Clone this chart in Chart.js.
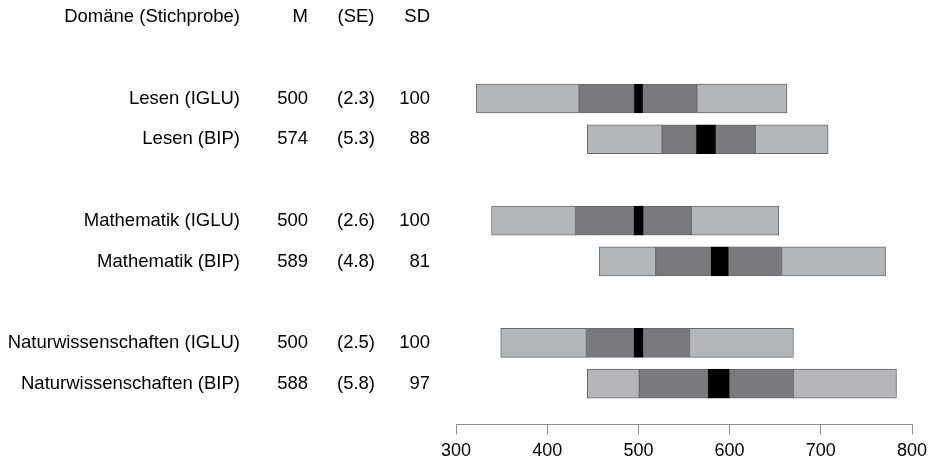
<!DOCTYPE html>
<html>
<head>
<meta charset="utf-8">
<script src="https://cdn.jsdelivr.net/npm/chart.js@4"></script>
<style>
  html, body { margin: 0; padding: 0; background: #fff; }
  #wrap { width: 931px; height: 470px; }
</style>
</head>
<body>
<div id="wrap"><canvas id="c" width="931" height="470"></canvas></div>
<script>
// ---- data ----
const headerLabels = ['Domäne (Stichprobe)', 'M', '(SE)', 'SD'];
const domains = ['Lesen (IGLU)', 'Lesen (BIP)', 'Mathematik (IGLU)', 'Mathematik (BIP)', 'Naturwissenschaften (IGLU)', 'Naturwissenschaften (BIP)'];
const means = [500, 574, 500, 589, 500, 588];
const ses   = [2.3, 5.3, 2.6, 4.8, 2.5, 5.8];
const sds   = [100, 88, 100, 81, 100, 97];
const p5    = [322, 444, 339, 457, 349, 444];
const p25   = [435, 526, 431, 519, 443, 501];
const p75   = [564, 628, 558, 657, 556, 670];
const p95   = [663, 708, 654, 771, 670, 783];
const xTicks = [300, 400, 500, 600, 700, 800];
const groupSize = 2;

// ---- build category rows: header, blank, then groups separated by blanks ----
const rows = [{ type: 'header' }, { type: 'blank' }];
domains.forEach((d, i) => {
  rows.push({ type: 'data', i });
  if ((i + 1) % groupSize === 0) rows.push({ type: 'blank' });
});
const yLabels = rows.map((r, k) => r.type === 'data' ? domains[r.i] : (r.type === 'header' ? headerLabels[0] : ' '.repeat(k + 1)));

function seg(fn) {
  return rows.map(r => r.type === 'data' ? fn(r.i) : null);
}

const LIGHT = '#b4b7ba', DARK = '#7a7a7e', BORDER = '#6a6a6a';
const datasets = [
  { data: seg(i => [p5[i], p25[i]]), backgroundColor: LIGHT, borderColor: BORDER },
  { data: seg(i => [p25[i], means[i] - 2 * ses[i]]), backgroundColor: DARK, borderColor: BORDER },
  { data: seg(i => [means[i] - 2 * ses[i], means[i] + 2 * ses[i]]), backgroundColor: '#000', borderColor: '#000' },
  { data: seg(i => [means[i] + 2 * ses[i], p75[i]]), backgroundColor: DARK, borderColor: BORDER },
  { data: seg(i => [p75[i], p95[i]]), backgroundColor: LIGHT, borderColor: BORDER },
].map(d => Object.assign(d, { borderWidth: 1, borderSkipped: false, barThickness: 29 }));

const FONT = '"Liberation Sans", Arial, sans-serif';

const textPlugin = {
  id: 'textCols',
  afterDraw(chart) {
    const ctx = chart.ctx;
    const ys = chart.scales.y;
    ctx.save();
    ctx.fillStyle = '#000';
    ctx.font = '18.5px ' + FONT;
    ctx.textBaseline = 'middle';
    const put = (t, x, y, align) => { ctx.textAlign = align; ctx.fillText(t, x, y); };
    rows.forEach((r, k) => {
      const y = ys.getPixelForValue(k);
      if (r.type === 'header') {
        put(headerLabels[0], 240, y, 'right');
        put(headerLabels[1], 308, y, 'right');
        put(headerLabels[2], 356, y, 'center');
        put(headerLabels[3], 430, y, 'right');
      } else if (r.type === 'data') {
        const i = r.i;
        put(domains[i], 240, y, 'right');
        put(String(means[i]), 308, y, 'right');
        put('(' + ses[i].toFixed(1) + ')', 356, y, 'center');
        put(String(sds[i]), 430, y, 'right');
      }
    });
    ctx.restore();
  }
};

new Chart(document.getElementById('c'), {
  type: 'bar',
  data: { labels: yLabels, datasets },
  plugins: [textPlugin],
  options: {
    indexAxis: 'y',
    responsive: false,
    animation: false,
    layout: { padding: { left: 456, right: 19, top: 17, bottom: 2 } },
    plugins: { legend: { display: false }, tooltip: { enabled: false } },
    scales: {
      y: {
        type: 'category',
        display: false,
        offset: false,
        stacked: true,
      },
      x: {
        type: 'linear',
        min: 300,
        max: 800,
        offset: false,
        stacked: false,
        afterBuildTicks: (s) => { s.ticks = xTicks.map(v => ({ value: v })); },
        afterFit: (s) => { s.paddingLeft = 0; s.paddingRight = 0; },
        grid: { drawOnChartArea: false, drawTicks: true, tickLength: 10, color: '#8c8c8c', lineWidth: 1 },
        border: { display: true, color: '#8c8c8c', width: 1 },
        ticks: { color: '#000', font: { family: FONT, size: 18 }, padding: 6, maxRotation: 0 }
      }
    }
  }
});
</script>
</body>
</html>
